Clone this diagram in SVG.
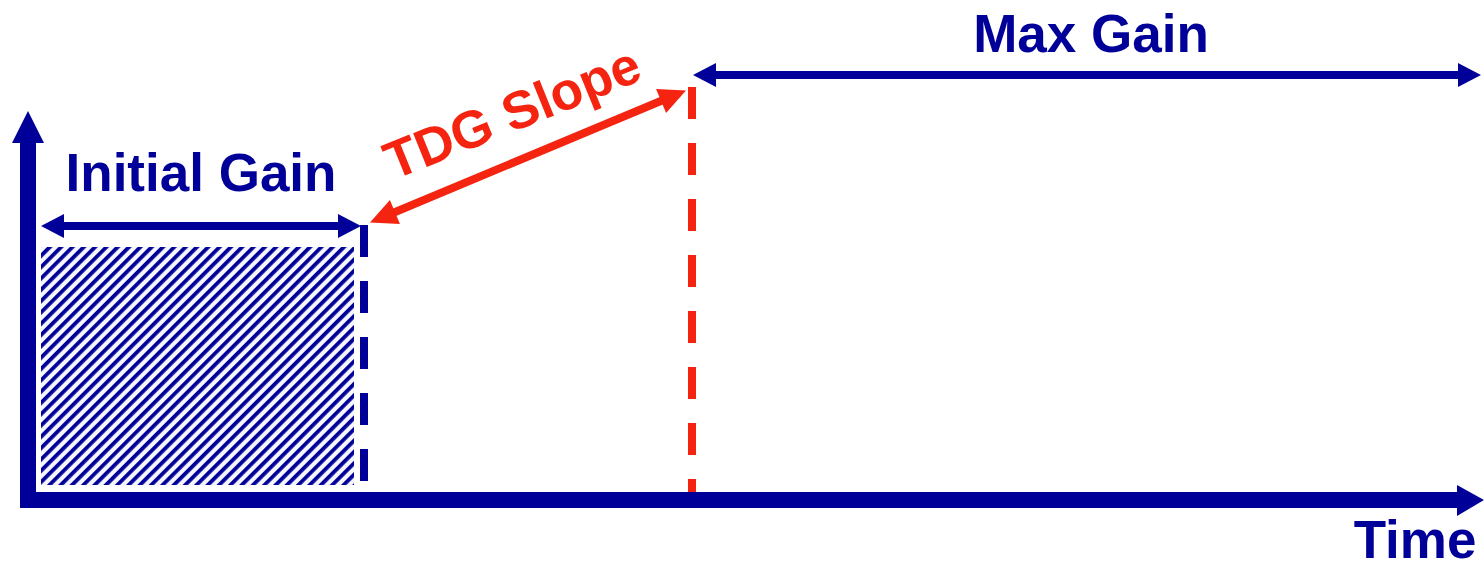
<svg xmlns="http://www.w3.org/2000/svg" width="1484" height="563" viewBox="0 0 1484 563">
  <style>
    .blue { fill: #000099; }
    .red { fill: #F52410; }
    .label { font-family: "Liberation Sans", Arial, sans-serif; font-weight: bold; font-size: 53px; text-anchor: middle; }
    .span-blue { stroke: #000099; stroke-width: 8; fill: none; }
    .span-red { stroke: #F52410; stroke-width: 8; fill: none; }
    .dash-blue { stroke: #000099; stroke-width: 8; stroke-dasharray: 32 24; fill: none; }
    .dash-red { stroke: #F52410; stroke-width: 8; stroke-dasharray: 32 24; fill: none; }
  </style>
  <defs>
    <pattern id="hatch" patternUnits="userSpaceOnUse" width="8" height="8" patternTransform="rotate(45)">
      <rect width="8" height="8" fill="#F6F6FF"/>
      <rect width="3.8" height="8" fill="#000099"/>
    </pattern>
    <marker id="headBlue" markerUnits="userSpaceOnUse" markerWidth="24" markerHeight="24" refX="1" refY="12" orient="auto-start-reverse" overflow="visible">
      <path d="M0,0 L23,12 L0,24 Z" fill="#000099"/>
    </marker>
    <marker id="headRed" markerUnits="userSpaceOnUse" markerWidth="28" markerHeight="26" refX="1" refY="13" orient="auto-start-reverse" overflow="visible">
      <path d="M0,0 L27,13 L0,26 Z" fill="#F52410"/>
    </marker>
  </defs>

  <rect width="1484" height="563" fill="#FFFFFF"/>

  <!-- gain region of the initial phase -->
  <g id="initial-region">
    <rect x="41" y="247" width="313" height="238" fill="url(#hatch)"/>
  </g>

  <!-- axes -->
  <g id="axes">
    <rect class="blue" x="20" y="143" width="16" height="365"/>
    <path class="blue" d="M12,143 L28,111 L44,143 Z"/>
    <rect class="blue" x="20" y="492" width="1438" height="16"/>
    <path class="blue" d="M1457,485 L1484,500 L1457,516 Z"/>
  </g>

  <g id="connectors">
    <!-- phase boundaries -->
    <line class="dash-blue" x1="364" y1="225" x2="364" y2="492"/>
    <line class="dash-red" x1="692" y1="87" x2="692" y2="492"/>
    <!-- span arrows -->
    <line class="span-blue" x1="63" y1="226" x2="339" y2="226" marker-start="url(#headBlue)" marker-end="url(#headBlue)"/>
    <line class="span-blue" x1="715" y1="75" x2="1459" y2="75" marker-start="url(#headBlue)" marker-end="url(#headBlue)"/>
    <line class="span-red" x1="394" y1="212.5" x2="662" y2="100.5" marker-start="url(#headRed)" marker-end="url(#headRed)"/>
  </g>

  <g id="label-initial-gain">
    <text class="label blue" x="201" y="191">Initial Gain</text>
  </g>
  <g id="label-max-gain">
    <text class="label blue" x="1091" y="52">Max Gain</text>
  </g>
  <g id="label-tdg-slope">
    <text class="label red" font-size="52" transform="translate(512,112) rotate(-22)" x="0" y="19">TDG Slope</text>
  </g>
  <g id="label-time">
    <text class="label blue" x="1415" y="558">Time</text>
  </g>
</svg>
